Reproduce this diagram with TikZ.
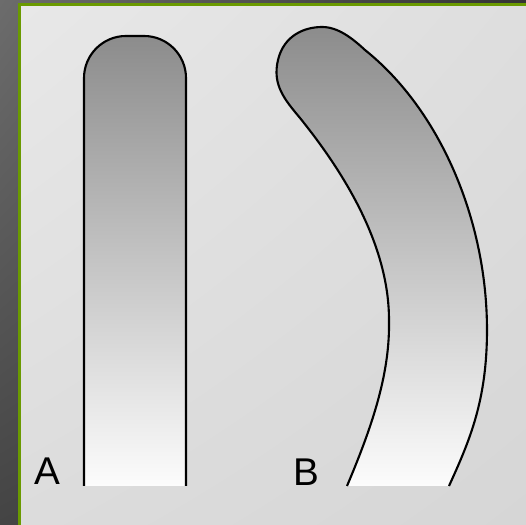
\documentclass[tikz,border=0pt]{standalone}
\usepackage{fontspec}
\setmainfont{Liberation Sans}
\usepackage{tikz}
\usetikzlibrary{positioning, shadings}
\definecolor{bartop}{HTML}{8C8C8C}
\definecolor{barbot}{HTML}{FCFCFC}
\definecolor{rim}{HTML}{6A9A00}
\definecolor{outerUL}{HTML}{6C6C6C}
\definecolor{outerUR}{HTML}{343434}
\definecolor{outerLL}{HTML}{444444}
\definecolor{outerLR}{HTML}{323232}
\definecolor{panelUL}{HTML}{E8E8E8}
\definecolor{panelUR}{HTML}{DEDEDE}
\definecolor{panelLL}{HTML}{DCDCDC}
\definecolor{panelLR}{HTML}{D6D6D6}
\tikzset{
  bar/.style={draw=black, line width=0.6pt, top color=bartop, bottom color=barbot},
  lbl/.style={inner sep=0pt, font=\fontsize{11}{13}\selectfont},
}
\begin{document}
\begin{tikzpicture}[x=0.01cm, y=-0.01cm]
    \useasboundingbox (0,0) rectangle (526,525);
    % dark surround and light panel
    \shade[upper left=outerUL, upper right=outerUR, lower left=outerLL, lower right=outerLR]
      (0,0) rectangle (526,525);
    \shade[upper left=panelUL, upper right=panelUR, lower left=panelLL, lower right=panelLR]
      (19.5,4.5) rectangle (526,525);
    \draw[rim, line width=0.6pt] (19.5,525) -- (19.5,4.5) -- (526,4.5);
    % bar A
    \shadedraw[bar, rounded corners=0.42cm] (84,486) -- (84,36) -- (186,36) -- (186,486);
    % bar B
    \shadedraw[bar] (347,486) .. controls (375,420) and (390,370) .. (389,320)
      .. controls (389,250) and (350,180) .. (300,118)
      .. controls (285,100) and (272,85) .. (278,60)
      .. controls (284,35) and (305,27) .. (322,27)
      .. controls (338,27) and (352,38) .. (365,50)
      .. controls (440,110) and (487,220) .. (487,330)
      .. controls (487,400) and (470,440) .. (449,486);
    \node[lbl] (lblA) at (47.5,471) {A};
    \node[lbl] (lblB) at (306,472) {B};
  \end{tikzpicture}
\end{document}
